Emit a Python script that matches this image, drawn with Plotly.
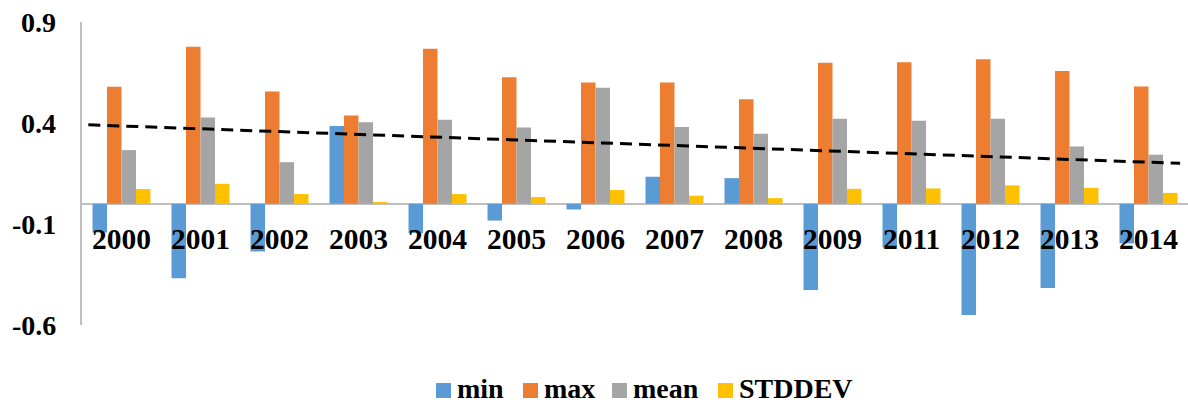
import plotly.graph_objects as go

# Yearly statistics
years = ["2000", "2001", "2002", "2003", "2004", "2005", "2006",
         "2007", "2008", "2009", "2011", "2012", "2013", "2014"]
min_vals = [-0.142, -0.368, -0.236, 0.385, -0.145, -0.083, -0.028,
            0.134, 0.127, -0.427, -0.216, -0.551, -0.417, -0.196]
max_vals = [0.579, 0.777, 0.556, 0.437, 0.767, 0.627, 0.601,
            0.601, 0.518, 0.698, 0.701, 0.716, 0.657, 0.581]
mean_vals = [0.266, 0.427, 0.206, 0.404, 0.416, 0.378, 0.574,
             0.380, 0.347, 0.421, 0.411, 0.421, 0.284, 0.243]
std_vals = [0.073, 0.099, 0.048, 0.005, 0.048, 0.033, 0.068,
            0.040, 0.028, 0.074, 0.076, 0.091, 0.079, 0.054]

# Linear trend line (value at first and last year), extended slightly each way
trend_first = 0.385
trend_last = 0.206
trend_extend = 0.42

y_ticks = [-0.6, -0.1, 0.4, 0.9]
y_tick_text = ["-0.6", "-0.1", "0.4", "0.9"]

FONT = "Liberation Serif, Times New Roman, serif"
W, H = 1188, 405
ML, MR, MT, MB = 82, 0, 22, 80
PW, PH = W - ML - MR, H - MT - MB
x_idx = list(range(len(years)))

series = [
    ("min", min_vals, "#5B9BD5"),
    ("max", max_vals, "#ED7D31"),
    ("mean", mean_vals, "#A5A5A5"),
    ("STDDEV", std_vals, "#FFC000"),
]

fig = go.Figure()
for name, vals, color in series:
    fig.add_trace(go.Bar(
        x=x_idx, y=vals, name=name, showlegend=False,
        marker=dict(color=color, line=dict(width=0)),
    ))

n = len(years) - 1
slope = (trend_last - trend_first) / n
tx = [-trend_extend, n + trend_extend - 0.02]
ty = [trend_first + slope * t for t in tx]
fig.add_trace(go.Scatter(
    x=tx, y=ty, mode="lines", showlegend=False, hoverinfo="skip",
    line=dict(color="black", width=3, dash="12px,7px"),
))

# Year labels sit just below the zero line
for i, yr in enumerate(years):
    fig.add_annotation(
        x=i, y=0, text=yr, showarrow=False,
        xanchor="center", yanchor="middle", yshift=-35,
        font=dict(family=FONT, size=29.5, color="black", weight="bold"),
    )

# Value labels to the left of the vertical axis
for v, t in zip(y_ticks, y_tick_text):
    fig.add_annotation(
        xref="paper", x=0, y=v, text=t, showarrow=False,
        xanchor="right", yanchor="middle", xshift=-25, borderpad=0,
        font=dict(family=FONT, size=28, color="black", weight="bold"),
    )

# Legend row below the plot: colour swatch followed by the series name
def px_to_paper_x(px):
    return (px - ML) / PW

def px_to_paper_y(py):
    return (H - MB - py) / PH

legend_left = [436, 523, 612, 718]
legend_cy = 389
sw = 15
for (name, _, color), lx in zip(series, legend_left):
    fig.add_shape(
        type="rect", xref="paper", yref="paper",
        x0=px_to_paper_x(lx), x1=px_to_paper_x(lx + sw),
        y0=px_to_paper_y(legend_cy + 1.5 + sw / 2),
        y1=px_to_paper_y(legend_cy + 1.5 - sw / 2),
        fillcolor=color, line=dict(width=0),
    )
    fig.add_annotation(
        xref="paper", yref="paper",
        x=px_to_paper_x(lx + sw + 5), y=px_to_paper_y(legend_cy),
        text=name, showarrow=False, xanchor="left", yanchor="middle",
        borderpad=0,
        font=dict(family=FONT, size=28, color="black", weight="bold"),
    )

fig.update_layout(
    width=W, height=H,
    margin=dict(l=ML, r=MR, t=MT, b=MB),
    paper_bgcolor="white", plot_bgcolor="white",
    barmode="group", bargap=0.266, bargroupgap=0,
    font=dict(family=FONT, size=28, color="black"),
    showlegend=False,
    xaxis=dict(
        range=[-0.5, len(years) - 0.5], showticklabels=False,
        showgrid=False, zeroline=False, showline=False, ticks="",
    ),
    yaxis=dict(
        range=[-0.6, 0.9], tickvals=y_ticks, showticklabels=False,
        showgrid=False, showline=True, linecolor="#BFBFBF", linewidth=1.5,
        zeroline=True, zerolinecolor="#BFBFBF", zerolinewidth=1.5,
        ticks="",
    ),
)

fig.write_html("out.html")
